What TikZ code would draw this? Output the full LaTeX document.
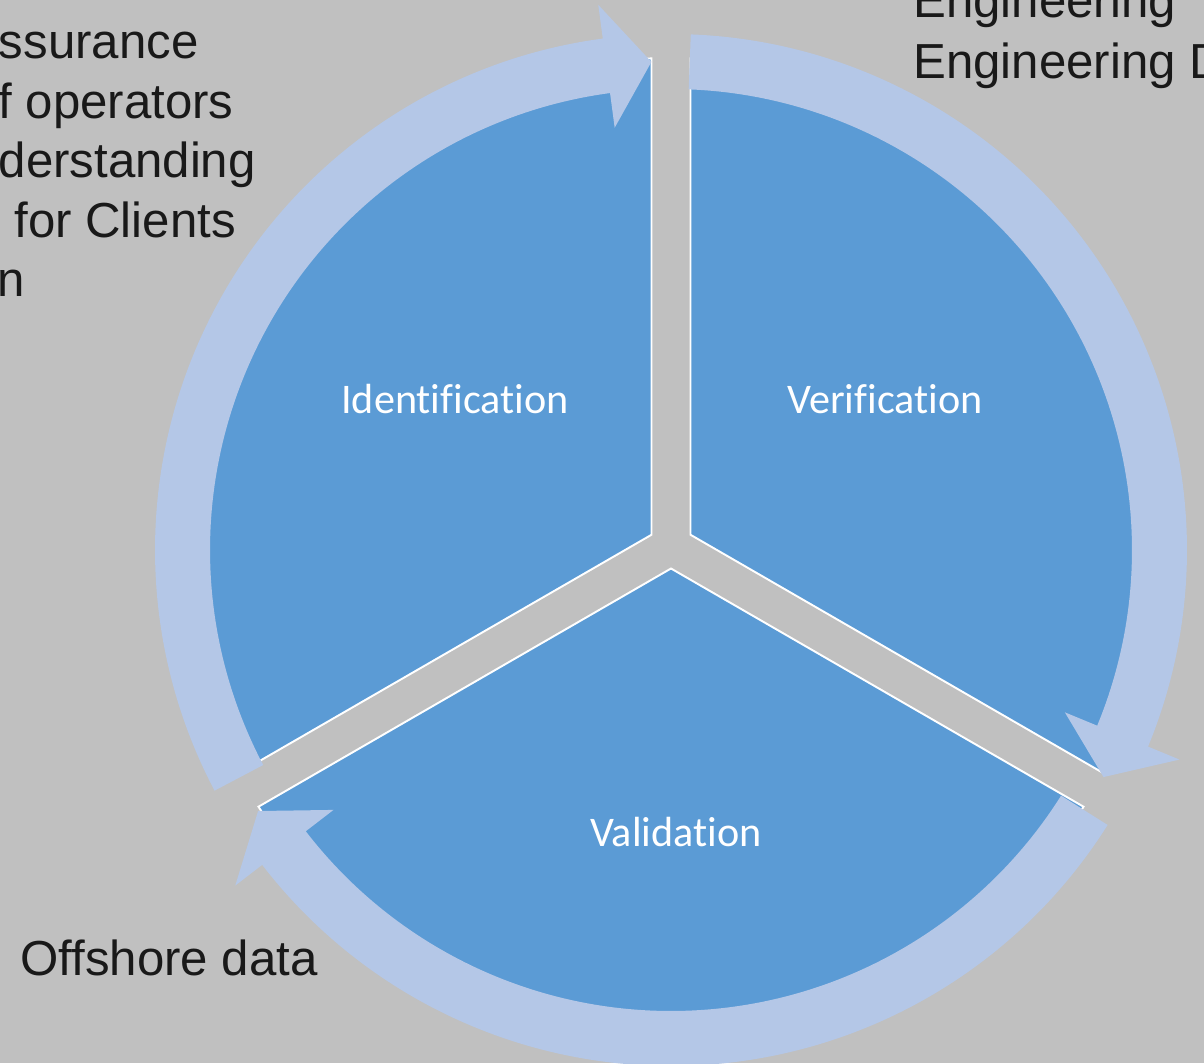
\documentclass[tikz,border=0pt]{standalone}
\usepackage{fontspec}
\setmainfont[Ligatures={NoCommon}]{Liberation Sans}
\newfontfamily\segfont[Ligatures={NoCommon}]{Carlito}
\usepackage{xcolor}
\usetikzlibrary{positioning,calc}

\definecolor{bggray}{HTML}{C0C0C0}
\definecolor{segblue}{HTML}{5B9BD5}
\definecolor{ringblue}{HTML}{B4C7E7}

\tikzset{
  segment/.style={fill=segblue, draw=white, line width=1.1pt},
  cyclearrow/.style={fill=ringblue},
  seglabel/.style={font=\segfont\fontsize{24}{29}\selectfont, text=white, anchor=base, inner sep=0pt},
  sidenote/.style={font=\fontsize{28}{34}\selectfont, text=black!90, anchor=base west, inner sep=0pt},
}

\begin{document}
\begin{tikzpicture}[x=0.02cm, y=0.02cm]
    \useasboundingbox (0,0) rectangle (1204,1063);
    \fill[bggray] (0,0) rectangle (1204,1063);

    % centres of the pie and of the arrow ring
    \coordinate (pie) at (671,517);
    \coordinate (ring) at (671,513);

    % Segments (gap of 39 between them)
    \foreach \b in {150,30,270} {
        \draw[segment] ([shift={(pie)}]\b:22.5) -- ([shift={(pie)}]{\b-57.71}:488)
            arc[start angle=\b-57.71, end angle=\b+57.71, radius=488] -- cycle;
    }

    % Curved arrows round the cycle, clockwise
    \foreach \r in {0,120,240} {
        \fill[cyclearrow] ([shift={(ring)}]{207.8-\r}:516)
            arc[start angle=207.8-\r, end angle=97.6-\r, radius=516]
            -- ([shift={(ring)}]{97.6-\r}:550)
            -- ([shift={(ring)}]{92.3-\r}:488.5)
            -- ([shift={(ring)}]{97.6-\r}:426)
            -- ([shift={(ring)}]{97.6-\r}:461)
            arc[start angle=97.6-\r, end angle=207.8-\r, radius=461]
            -- cycle;
    }

    % Segment labels
    \node[seglabel] (ident) at (455,649) {Identification};
    \node[seglabel] (verif) at (885,649) {Verification};
    \node[seglabel] (valid) at (676,217) {Validation};

    % Notes round the cycle
    \foreach \i/\dx/\txt in {0/-1.5/ssurance, 1/-2/f operators, 2/-1.7/derstanding, 3/14/for Clients, 4/-3/n}
        \node[sidenote] (note\i) at (\dx, 1004-59.5*\i) {\txt};
    \foreach \i/\txt in {0/Engineering, 1/Engineering D}
        \node[sidenote] (eng\i) at (913, 1045-61*\i) {\txt};
    \node[sidenote] (offshore) at (20,88) {Offshore data};
\end{tikzpicture}
\end{document}
